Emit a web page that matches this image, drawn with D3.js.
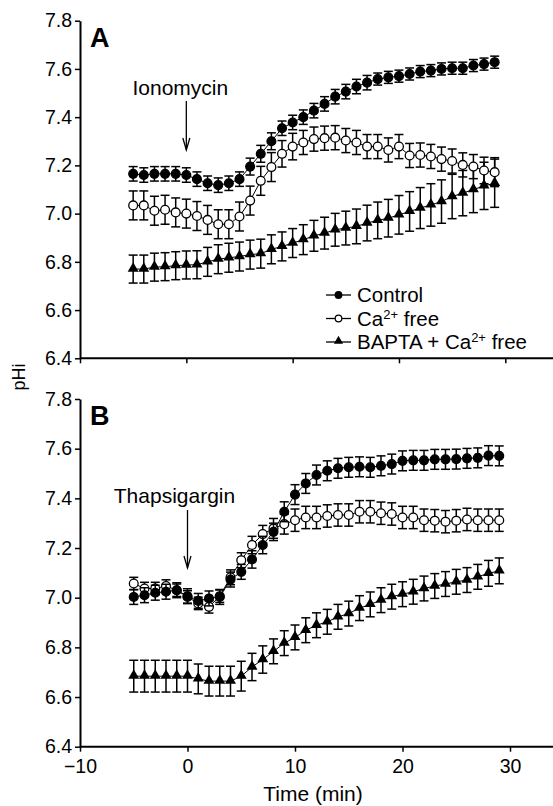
<!DOCTYPE html>
<html>
<head>
<meta charset="utf-8">
<script src="https://cdn.jsdelivr.net/npm/d3@7"></script>
<style>
  body { margin: 0; background: #fff; }
  text { font-family: "Liberation Sans", Arial, sans-serif; fill: #000; }
</style>
</head>
<body>
<svg id="chart" width="553" height="806"></svg>
<script>
// time points, minutes (-5 .. 29)
var times = d3.range(-5, 30);

var yTicks = [6.4, 6.6, 6.8, 7.0, 7.2, 7.4, 7.6, 7.8];
var xTicks = [-10, 0, 10, 20, 30];
var xTickLabels = ["\u221210", "0", "10", "20", "30"];
var seriesNames = ["Control", "Ca2+ free", "BAPTA + Ca2+ free"];

// Panel A (Ionomycin)
var ctrlA = [7.165, 7.16, 7.165, 7.165, 7.165, 7.16, 7.143, 7.126, 7.118, 7.126, 7.143, 7.195, 7.248, 7.30, 7.354,
    7.378, 7.40, 7.427, 7.455, 7.485, 7.506, 7.527, 7.543, 7.558, 7.565, 7.57, 7.579, 7.589, 7.593, 7.60,
    7.603, 7.603, 7.614, 7.62, 7.628];
var ctrlAErr = [0.03, 0.03, 0.03, 0.03, 0.03, 0.03, 0.03, 0.03, 0.03, 0.03, 0.03, 0.035, 0.035, 0.035, 0.03,
    0.03, 0.03, 0.03, 0.03, 0.03, 0.03, 0.03, 0.03, 0.025, 0.025, 0.025, 0.025, 0.025, 0.025, 0.025,
    0.025, 0.025, 0.025, 0.025, 0.025];
var freeA = [7.034, 7.034, 7.012, 7.016, 7.005, 7.0, 6.99, 6.974, 6.956, 6.956, 6.988, 7.054, 7.136, 7.193, 7.248,
    7.278, 7.295, 7.309, 7.313, 7.315, 7.303, 7.295, 7.278, 7.278, 7.264, 7.278, 7.241, 7.243, 7.237, 7.226,
    7.218, 7.202, 7.195, 7.179, 7.172];
var freeAErr = [0.06, 0.06, 0.06, 0.06, 0.06, 0.06, 0.06, 0.06, 0.06, 0.06, 0.06, 0.06, 0.06, 0.06, 0.055,
    0.055, 0.05, 0.05, 0.05, 0.05, 0.05, 0.05, 0.05, 0.05, 0.05, 0.05, 0.05, 0.05, 0.05, 0.05,
    0.05, 0.05, 0.05, 0.055, 0.06];
var baptaA = [6.77, 6.77, 6.778, 6.78, 6.784, 6.787, 6.788, 6.80, 6.811, 6.817, 6.822, 6.83, 6.834, 6.852, 6.864,
    6.878, 6.892, 6.908, 6.919, 6.933, 6.94, 6.947, 6.961, 6.972, 6.981, 6.995, 7.009, 7.023, 7.036, 7.05,
    7.071, 7.085, 7.10, 7.115, 7.126];
var baptaAErr = [0.058, 0.058, 0.058, 0.058, 0.058, 0.058, 0.058, 0.06, 0.06, 0.06, 0.06, 0.06, 0.06, 0.06, 0.06,
    0.06, 0.062, 0.064, 0.066, 0.068, 0.07, 0.072, 0.074, 0.076, 0.078, 0.08, 0.082, 0.085, 0.088, 0.09,
    0.092, 0.094, 0.096, 0.098, 0.1];

// Panel B (Thapsigargin)
var ctrlB = [7.003, 7.01, 7.02, 7.024, 7.03, 7.006, 6.987, 6.997, 7.003, 7.073, 7.104, 7.154, 7.212, 7.265, 7.346,
    7.415, 7.46, 7.494, 7.511, 7.521, 7.525, 7.527, 7.525, 7.531, 7.538, 7.551, 7.553, 7.553, 7.557, 7.557,
    7.558, 7.561, 7.563, 7.572, 7.571];
var ctrlBErr = [0.03, 0.03, 0.03, 0.03, 0.03, 0.03, 0.03, 0.03, 0.03, 0.03, 0.03, 0.035, 0.035, 0.035, 0.04,
    0.04, 0.04, 0.04, 0.04, 0.04, 0.04, 0.04, 0.04, 0.04, 0.04, 0.04, 0.04, 0.04, 0.04, 0.04,
    0.04, 0.04, 0.04, 0.04, 0.04];
var freeB = [7.057, 7.037, 7.037, 7.047, 7.03, 7.003, 6.977, 6.963, 7.006, 7.082, 7.151, 7.212, 7.256, 7.279, 7.296,
    7.312, 7.323, 7.323, 7.329, 7.333, 7.333, 7.346, 7.346, 7.34, 7.337, 7.323, 7.323, 7.312, 7.31, 7.306,
    7.31, 7.315, 7.312, 7.312, 7.312];
var freeBErr = [0.025, 0.025, 0.025, 0.025, 0.025, 0.025, 0.025, 0.025, 0.025, 0.03, 0.03, 0.035, 0.035, 0.04, 0.04,
    0.045, 0.045, 0.045, 0.045, 0.045, 0.045, 0.045, 0.045, 0.045, 0.045, 0.045, 0.045, 0.045, 0.045, 0.045,
    0.045, 0.045, 0.045, 0.045, 0.045];
var baptaB = [6.684, 6.684, 6.684, 6.684, 6.684, 6.684, 6.673, 6.664, 6.664, 6.664, 6.684, 6.721, 6.751, 6.784, 6.817,
    6.84, 6.869, 6.889, 6.903, 6.923, 6.936, 6.958, 6.973, 6.99, 7.004, 7.014, 7.024, 7.037, 7.047, 7.055,
    7.064, 7.071, 7.084, 7.098, 7.108];
var baptaBErr = [0.064, 0.064, 0.064, 0.064, 0.064, 0.064, 0.06, 0.06, 0.06, 0.06, 0.06, 0.055, 0.055, 0.05, 0.05,
    0.05, 0.05, 0.05, 0.05, 0.05, 0.05, 0.05, 0.05, 0.05, 0.05, 0.05, 0.05, 0.05, 0.05, 0.05,
    0.05, 0.05, 0.05, 0.052, 0.052];

var svg = d3.select("#chart");
var triangle = d3.symbol().type(d3.symbolTriangle).size(52);

function drawPanel(p) {
    var x = d3.scaleLinear().domain([-10, 30]).range([80, p.x30]);
    var y = d3.scaleLinear().domain([6.4, 7.8]).range([p.bottom, p.top]);
    var g = svg.append("g");

    // axes
    var yAxis = g.append("g")
        .attr("transform", "translate(80,0)")
        .call(d3.axisLeft(y).tickValues(yTicks).tickFormat(d3.format(".1f")).tickSize(5).tickSizeOuter(0));
    var xAxis = g.append("g")
        .attr("transform", "translate(0," + p.bottom + ")")
        .call(d3.axisBottom(x).tickValues(xTicks).tickSize(5).tickSizeOuter(0)
            .tickFormat(function(d, i) { return p.xLabels ? xTickLabels[i] : ""; }));
    xAxis.select(".domain").attr("d", "M80,0H553");
    [xAxis, yAxis].forEach(function(a) {
        a.select(".domain").attr("stroke-width", 2);
        a.selectAll(".tick line").attr("stroke-width", 1.5);
        a.selectAll("text").style("font-size", "19.5px").attr("fill", "#000");
    });
    yAxis.selectAll("text").attr("x", -8);
    xAxis.selectAll("text").attr("y", 12);

    var series = [
        {v: p.bapta, e: p.baptaErr, kind: "tri"},
        {v: p.free, e: p.freeErr, kind: "open"},
        {v: p.ctrl, e: p.ctrlErr, kind: "fill"}
    ];
    var line = d3.line().x(function(d) { return x(d.t); }).y(function(d) { return y(d.v); });

    series.forEach(function(s) {
        var pts = times.map(function(t, i) { return {t: t, v: s.v[i], e: s.e[i]}; });
        var sg = g.append("g");
        sg.append("path").datum(pts).attr("d", line)
            .attr("fill", "none").attr("stroke", "#000").attr("stroke-width", 1);
        var eb = sg.selectAll(".eb").data(pts).enter().append("g");
        eb.append("line")
            .attr("x1", function(d) { return x(d.t); }).attr("x2", function(d) { return x(d.t); })
            .attr("y1", function(d) { return y(d.v + d.e); }).attr("y2", function(d) { return y(d.v - d.e); });
        eb.append("line")
            .attr("x1", function(d) { return x(d.t) - 4.5; }).attr("x2", function(d) { return x(d.t) + 4.5; })
            .attr("y1", function(d) { return y(d.v + d.e); }).attr("y2", function(d) { return y(d.v + d.e); });
        eb.append("line")
            .attr("x1", function(d) { return x(d.t) - 4.5; }).attr("x2", function(d) { return x(d.t) + 4.5; })
            .attr("y1", function(d) { return y(d.v - d.e); }).attr("y2", function(d) { return y(d.v - d.e); });
        eb.selectAll("line").attr("stroke", "#000").attr("stroke-width", 1.5);
        if (s.kind === "tri") {
            sg.selectAll(".m").data(pts).enter().append("path")
                .attr("d", triangle)
                .attr("transform", function(d) { return "translate(" + x(d.t) + "," + (y(d.v) - 0.5) + ")"; })
                .attr("fill", "#000");
        } else {
            sg.selectAll(".m").data(pts).enter().append("circle")
                .attr("cx", function(d) { return x(d.t); }).attr("cy", function(d) { return y(d.v); })
                .attr("r", 4.4)
                .attr("fill", s.kind === "fill" ? "#000" : "#fff")
                .attr("stroke", "#000").attr("stroke-width", 1.3);
        }
    });

    // panel letter
    g.append("text").attr("x", 90).attr("y", p.top + 26)
        .style("font-size", "27px").style("font-weight", "bold").text(p.letter);

    // treatment label and arrow at t = 0
    var ax = x(0);
    g.append("text").attr("x", ax + p.labelDx).attr("y", p.labelY)
        .attr("text-anchor", "middle").style("font-size", "21px").text(p.drug);
    g.append("line").attr("x1", ax).attr("x2", ax).attr("y1", p.arrowTop).attr("y2", p.arrowBottom)
        .attr("stroke", "#000").attr("stroke-width", 1.3);
    g.append("path")
        .attr("d", "M" + (ax - 3.5) + "," + (p.arrowBottom - 12) + "L" + ax + "," + p.arrowBottom + "L" + (ax + 3.5) + "," + (p.arrowBottom - 12))
        .attr("fill", "none").attr("stroke", "#000").attr("stroke-width", 1.3);
    return g;
}

drawPanel({
    letter: "A", drug: "Ionomycin", top: 20.7, bottom: 358.3, x30: 505.3, xLabels: false,
    labelY: 95, labelDx: -6, arrowTop: 101, arrowBottom: 150,
    ctrl: ctrlA, ctrlErr: ctrlAErr, free: freeA, freeErr: freeAErr, bapta: baptaA, baptaErr: baptaAErr
});
drawPanel({
    letter: "B", drug: "Thapsigargin", top: 399, bottom: 746.7, x30: 510, xLabels: true,
    labelY: 503, labelDx: -13, arrowTop: 510, arrowBottom: 568,
    ctrl: ctrlB, ctrlErr: ctrlBErr, free: freeB, freeErr: freeBErr, bapta: baptaB, baptaErr: baptaBErr
});

// legend (panel A)
var legend = svg.append("g").attr("transform", "translate(326,0)");
var legRows = [
    {name: "Control", y: 295, kind: "fill"},
    {name: "Ca", y: 318.5, kind: "open"},
    {name: "BAPTA + Ca", y: 342, kind: "tri"}
];
legRows.forEach(function(r, i) {
    legend.append("line").attr("x1", 0).attr("x2", 25).attr("y1", r.y).attr("y2", r.y)
        .attr("stroke", "#000").attr("stroke-width", 1.3);
    if (r.kind === "tri") {
        legend.append("path").attr("d", d3.symbol().type(d3.symbolTriangle).size(36))
            .attr("transform", "translate(12.5," + (r.y - 1) + ")").attr("fill", "#000");
    } else {
        legend.append("circle").attr("cx", 12.5).attr("cy", r.y).attr("r", 3.3)
            .attr("fill", r.kind === "fill" ? "#000" : "#fff").attr("stroke", "#000").attr("stroke-width", 1.2);
    }
    var t = legend.append("text").attr("x", 31).attr("y", r.y + 7).style("font-size", "20.5px");
    if (i === 0) {
        t.text(seriesNames[0]);
    } else {
        t.append("tspan").text(r.name);
        t.append("tspan").attr("dy", -7).style("font-size", "13px").text("2+");
        t.append("tspan").attr("dy", 7).text(" free");
    }
});

// shared axis titles
svg.append("text")
    .attr("transform", "translate(25,377) rotate(-90)")
    .attr("text-anchor", "middle").style("font-size", "18px").text("pHi");
svg.append("text")
    .attr("x", 313).attr("y", 801)
    .attr("text-anchor", "middle").style("font-size", "21px").text("Time (min)");
</script>
</body>
</html>
